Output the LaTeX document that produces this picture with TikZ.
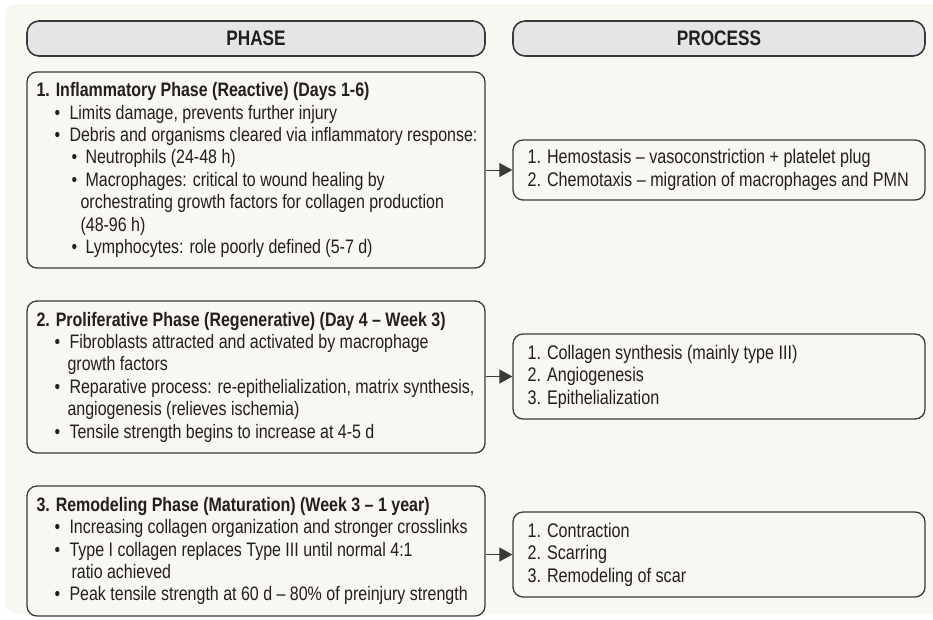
\documentclass[tikz,border=0pt]{standalone}
\usepackage{fontspec}
\setmainfont{Liberation Sans}[FakeStretch=0.82]
\usetikzlibrary{arrows.meta}
\definecolor{cream}{HTML}{F8F7F1}
\definecolor{hdrfill}{HTML}{E5E5E7}
\definecolor{edge}{HTML}{3A3A3A}
\definecolor{ink}{HTML}{231F20}
\newcommand{\Ba}{\hspace*{18pt}\makebox[15pt][l]{\textbullet}}
\newcommand{\Bb}{\hspace*{35pt}\makebox[14pt][l]{\textbullet}}
\begin{document}
\begin{tikzpicture}[x=1pt,y=-1pt,
  hdr/.style={draw=edge, line width=1.6pt, fill=hdrfill, rounded corners=12pt, minimum height=35pt, inner sep=0pt, text=ink, font=\fontsize{21}{24}\selectfont\bfseries},
  phasebox/.style={draw=edge, line width=1.3pt, fill=cream, rounded corners=10pt, minimum width=458pt, inner sep=0pt},
  procbox/.style={draw=edge, line width=1.3pt, fill=cream, rounded corners=10pt, minimum width=412pt, inner sep=0pt},
  txt/.style={anchor=west, align=left, inner sep=0pt, text=ink, font=\fontsize{19.5}{22.4}\selectfont},
  ptxt/.style={txt, font=\fontsize{19.7}{22.6}\selectfont},
  conn/.style={draw=edge, line width=1pt, -{Triangle[length=13pt,width=14pt]}}
]
\useasboundingbox (0,0) rectangle (933,619);
\fill[white] (0,0) rectangle (933,619);
\fill[cream, rounded corners=12pt] (5,4) rectangle (960,614);

\node[hdr, minimum width=458pt] (hphase) at (256,38.5) {PHASE};
\node[hdr, minimum width=412pt] (hproc) at (719,38.5) {PROCESS};

\node[phasebox, minimum height=196pt] (p1) at (256,170) {};
\node[phasebox, minimum height=152pt] (p2) at (256,377) {};
\node[phasebox, minimum height=130pt] (p3) at (256,551) {};

\node[procbox, minimum height=60pt] (r1) at (719,170) {};
\node[procbox, minimum height=85pt] (r2) at (719,376.5) {};
\node[procbox, minimum height=85pt] (r3) at (719,554.5) {};

\node[txt] (t1) at ([xshift=10pt]p1.west) {%
\textbf{1. Inflammatory Phase (Reactive) (Days 1-6)}\\
\Ba Limits damage, prevents further injury\\
\Ba Debris and organisms cleared via inflammatory response:\\
\Bb Neutrophils (24-48 h)\\
\Bb Macrophages: critical to wound healing by\\
\hspace*{44pt}orchestrating growth factors for collagen production\\
\hspace*{44pt}(48-96 h)\\
\Bb Lymphocytes: role poorly defined (5-7 d)};

\node[txt] (t2) at ([xshift=10pt]p2.west) {%
\textbf{2. Proliferative Phase (Regenerative) (Day 4 – Week 3)}\\
\Ba Fibroblasts attracted and activated by macrophage\\
\hspace*{31pt}growth factors\\
\Ba Reparative process: re-epithelialization, matrix synthesis,\\
\hspace*{31pt}angiogenesis (relieves ischemia)\\
\Ba Tensile strength begins to increase at 4-5 d};

\node[txt] (t3) at ([xshift=10pt]p3.west) {%
\textbf{3. Remodeling Phase (Maturation) (Week 3 – 1 year)}\\
\Ba Increasing collagen organization and stronger crosslinks\\
\Ba Type I collagen replaces Type III until normal 4:1\\
\hspace*{35pt}ratio achieved\\
\Ba Peak tensile strength at 60 d – 80\% of preinjury strength};

\node[ptxt] (u1) at ([xshift=15pt]r1.west) {%
1. Hemostasis – vasoconstriction + platelet plug\\
2. Chemotaxis – migration of macrophages and PMN};

\node[ptxt] (u2) at ([xshift=15pt]r2.west) {%
1. Collagen synthesis (mainly type III)\\
2. Angiogenesis\\
3. Epithelialization};

\node[ptxt] (u3) at ([xshift=15pt]r3.west) {%
1. Contraction\\
2. Scarring\\
3. Remodeling of scar};

\draw[conn] (p1.east |- r1.west) -- (r1.west);
\draw[conn] (p2.east |- r2.west) -- (r2.west);
\draw[conn] (p3.east |- r3.west) -- (r3.west);
\end{tikzpicture}
\end{document}
